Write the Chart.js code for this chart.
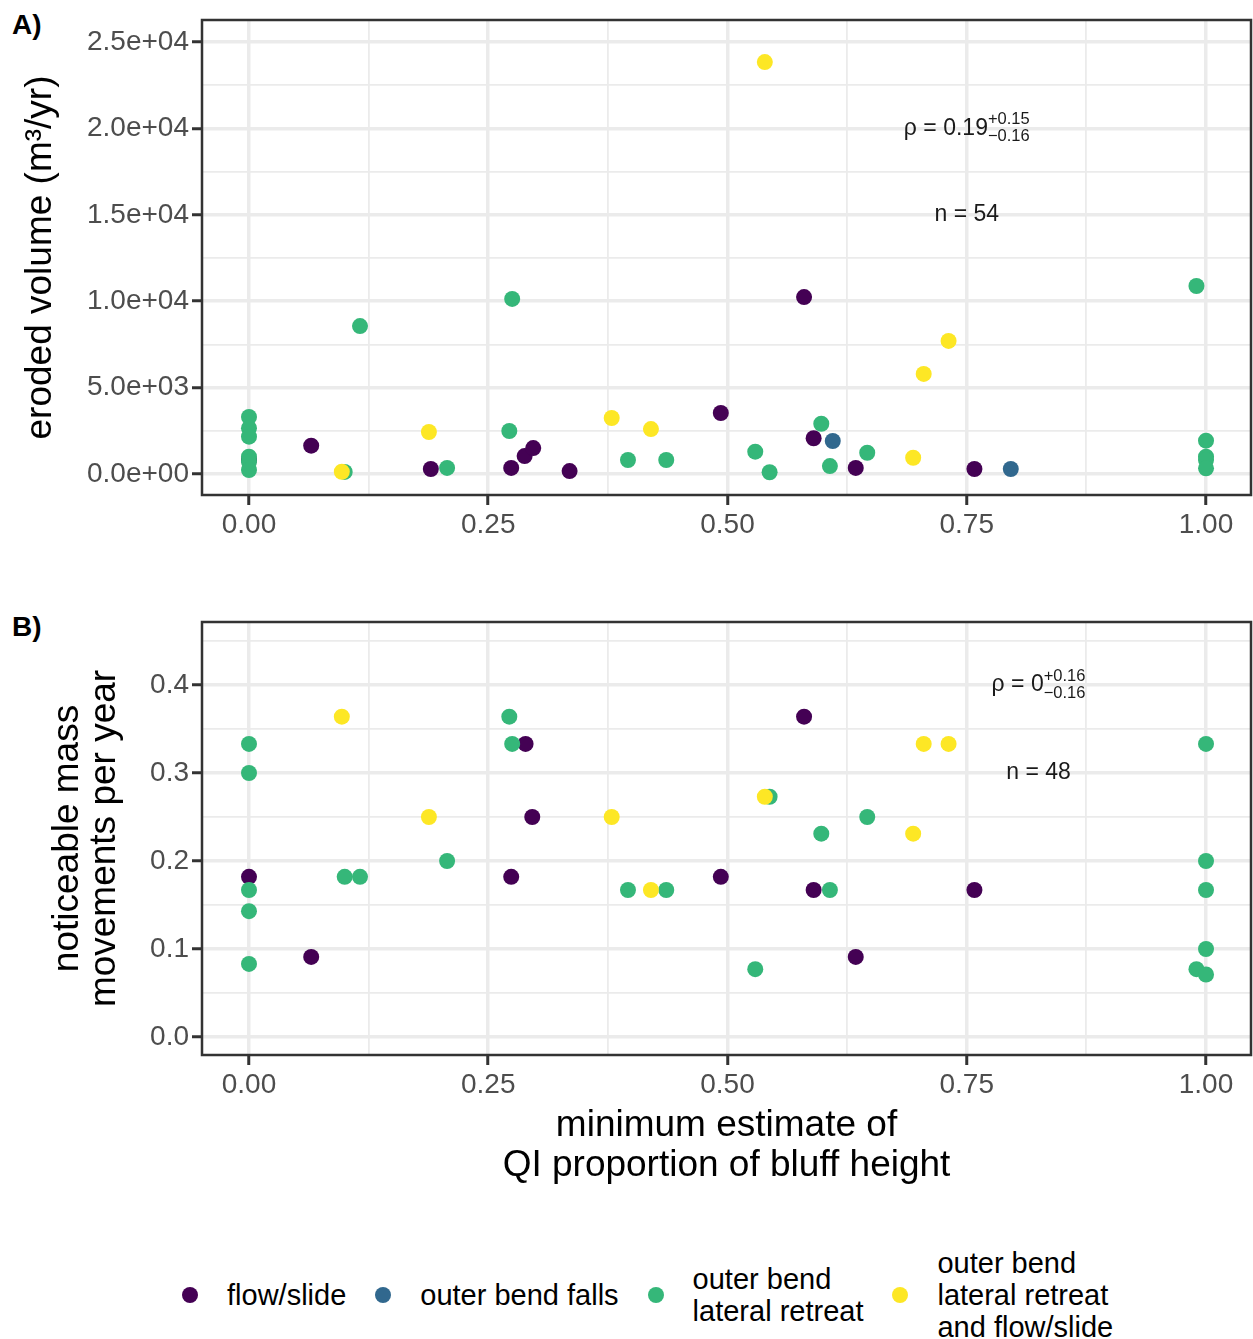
<!DOCTYPE html>
<html>
<head>
<meta charset="utf-8">
<script src="https://cdn.jsdelivr.net/npm/chart.js@4.4.1/dist/chart.umd.min.js"></script>
<style>
  body { margin:0; background:#fff; width:1253px; height:1339px; position:relative; overflow:hidden;
         font-family:"Liberation Sans", Arial, Helvetica, sans-serif; }
  canvas { position:absolute; left:0; }
  #chartA { top:0; }
  #chartB { top:600px; }
  .tag { position:absolute; left:12px; font-weight:bold; font-size:28px; line-height:28px; color:#000; }
  #legend { position:absolute; left:182px; top:1245px; height:100px; display:flex; align-items:center;
            gap:29px; font-size:29px; color:#000; }
  .key { width:16px; height:16px; border-radius:50%; flex:none; }
  .lab { line-height:32px; white-space:pre; }
</style>
</head>
<body>
<div class="tag" style="top:11px">A)</div>
<div class="tag" style="top:613px">B)</div>
<canvas id="chartA" width="1253" height="560"></canvas>
<canvas id="chartB" width="1253" height="600"></canvas>
<div id="legend"></div>

<script>
/* ---------- categories / colours ---------- */
const categories = ['flow/slide', 'outer bend falls', 'outer bend\nlateral retreat', 'outer bend\nlateral retreat\nand flow/slide'];
const colours    = ['#440154', '#31688E', '#35B779', '#FDE725'];

/* ---------- panel A: eroded volume ---------- */
// type: 0 flow/slide, 1 outer bend falls, 2 outer bend lateral retreat, 3 lateral retreat + flow/slide
const qiA   = [0, 0.065, 0.19, 0.274, 0.288, 0.297, 0.335, 0.493, 0.580, 0.590, 0.634, 0.758,
               0.610, 0.796,
               0, 0, 0, 0, 0, 0, 0.100, 0.116, 0.207, 0.272, 0.275, 0.396, 0.436, 0.529, 0.544, 0.598, 0.607, 0.646, 0.990, 1, 1, 1, 1,
               0.097, 0.188, 0.379, 0.420, 0.539, 0.694, 0.705, 0.731];
const volA  = [810, 1640, 290, 350, 1040, 1500, 170, 3530, 10240, 2070, 350, 290,
               1910, 290,
               3300, 2650, 2160, 1000, 710, 230, 120, 8560, 350, 2490, 10130, 810, 810, 1290, 100, 2910, 460, 1230, 10880, 1930, 1000, 810, 330,
               130, 2430, 3240, 2600, 23840, 940, 5790, 7700];
const typeA = [0, 0, 0, 0, 0, 0, 0, 0, 0, 0, 0, 0,
               1, 1,
               2, 2, 2, 2, 2, 2, 2, 2, 2, 2, 2, 2, 2, 2, 2, 2, 2, 2, 2, 2, 2, 2, 2,
               3, 3, 3, 3, 3, 3, 3, 3];

/* ---------- panel B: mass movements per year ---------- */
const qiB   = [0, 0.065, 0.274, 0.289, 0.296, 0.493, 0.580, 0.590, 0.634, 0.758,
               0, 0, 0, 0, 0, 0.100, 0.116, 0.207, 0.272, 0.275, 0.396, 0.436, 0.529, 0.544, 0.598, 0.607, 0.646, 0.990, 1, 1, 1, 1, 1,
               0.097, 0.188, 0.379, 0.420, 0.539, 0.694, 0.705, 0.731];
const rateB = [0.182, 0.091, 0.182, 0.333, 0.25, 0.182, 0.364, 0.167, 0.091, 0.167,
               0.333, 0.300, 0.167, 0.143, 0.083, 0.182, 0.182, 0.2, 0.364, 0.333, 0.167, 0.167, 0.077, 0.273, 0.231, 0.167, 0.25, 0.077, 0.333, 0.2, 0.167, 0.1, 0.071,
               0.364, 0.25, 0.25, 0.167, 0.273, 0.231, 0.333, 0.333];
const typeB = [0, 0, 0, 0, 0, 0, 0, 0, 0, 0,
               2, 2, 2, 2, 2, 2, 2, 2, 2, 2, 2, 2, 2, 2, 2, 2, 2, 2, 2, 2, 2, 2, 2,
               3, 3, 3, 3, 3, 3, 3, 3];

/* ---------- ticks ---------- */
const xTicks      = [0, 0.125, 0.25, 0.375, 0.5, 0.625, 0.75, 0.875, 1];
const xTickLabels = ['0.00', '0.25', '0.50', '0.75', '1.00'];
const yTicksA      = [0, 2500, 5000, 7500, 10000, 12500, 15000, 17500, 20000, 22500, 25000];
const yTickLabelsA = ['0.0e+00', '5.0e+03', '1.0e+04', '1.5e+04', '2.0e+04', '2.5e+04'];
const yTicksB      = [0, 0.05, 0.1, 0.15, 0.2, 0.25, 0.3, 0.35, 0.4, 0.45];
const yTickLabelsB = ['0.0', '0.1', '0.2', '0.3', '0.4'];

/* ---------- helpers ---------- */
const FONT = '"Liberation Sans", Arial, Helvetica, sans-serif';
Chart.defaults.font.family = FONT;

// chart.js draws dataset 0 on top, so give the later categories a lower order (ggplot draws them last)
function buildDatasets(xs, ys, types) {
  return categories.map((c, k) => ({
    label: c,
    order: categories.length - k,
    data: xs.map((x, i) => ({ x: x, y: ys[i], t: types[i] })).filter(p => p.t === k),
    backgroundColor: colours[k],
    borderWidth: 0,
    pointRadius: 8,
    pointHoverRadius: 8
  }));
}

// every other tick value is a major one (gets a label, a tick mark and a thick line)
function axis(values, labels, min, max, extra) {
  const isMajor = ctx => ctx.tick && values.indexOf(ctx.tick.value) % 2 === 0;
  return Object.assign({
    type: 'linear',
    min: min,
    max: max,
    afterBuildTicks: s => { s.ticks = values.map(v => ({ value: v })); },
    ticks: {
      autoSkip: false,
      maxRotation: 0,
      color: '#4d4d4d',
      font: { size: 28 },
      callback: v => { const i = values.indexOf(v); return i % 2 === 0 ? labels[i / 2] : ''; }
    },
    grid: {
      color: '#ebebeb',
      lineWidth: ctx => isMajor(ctx) ? 3.5 : 1.8,
      tickLength: 10,
      tickWidth: 3,
      tickColor: ctx => isMajor(ctx) ? '#333333' : 'rgba(0,0,0,0)'
    },
    border: { display: false }
  }, extra);
}

// fixed axis box sizes so the panels land where the original has them
function fixX(h) {
  return s => { s.height = h; s.paddingLeft = 0; s.paddingRight = 0; };
}
function fixY(w) {
  return s => { s.width = w; s.paddingTop = 0; s.paddingBottom = 0; };
}

/* ---------- panel border + rho / n labels ---------- */
const panelDeco = {
  id: 'panelDeco',
  afterDraw(chart, args, o) {
    const { ctx, chartArea: a, scales } = chart;
    ctx.save();
    ctx.strokeStyle = '#333333';
    ctx.lineWidth = 2.5;
    ctx.strokeRect(a.left, a.top, a.right - a.left, a.bottom - a.top);

    ctx.fillStyle = '#1a1a1a';
    ctx.textBaseline = 'middle';
    ctx.textAlign = 'left';
    const cx = scales.x.getPixelForValue(o.rhoAt[0]);
    const cy = scales.y.getPixelForValue(o.rhoAt[1]);
    const main = 'ρ = ' + o.rho;
    ctx.font = '23px ' + FONT;
    const wMain = ctx.measureText(main).width;
    ctx.font = '16.5px ' + FONT;
    const wSide = Math.max(ctx.measureText(o.rhoUp).width, ctx.measureText(o.rhoDown).width);
    const x0 = cx - (wMain + wSide) / 2;
    ctx.font = '23px ' + FONT;
    ctx.fillText(main, x0, cy);
    ctx.font = '16.5px ' + FONT;
    ctx.fillText(o.rhoUp, x0 + wMain, cy - 9);
    ctx.fillText(o.rhoDown, x0 + wMain, cy + 8);

    ctx.font = '23px ' + FONT;
    ctx.textAlign = 'center';
    ctx.fillText('n = ' + o.n, scales.x.getPixelForValue(o.nAt[0]), scales.y.getPixelForValue(o.nAt[1]));
    ctx.restore();
  }
};

/* ---------- chart A ---------- */
new Chart(document.getElementById('chartA'), {
  type: 'scatter',
  data: { datasets: buildDatasets(qiA, volA, typeA) },
  plugins: [panelDeco],
  options: {
    responsive: false,
    animation: false,
    events: [],
    layout: { autoPadding: false, padding: { top: 20, right: 2, bottom: 0, left: 0 } },
    plugins: {
      legend: { display: false },
      tooltip: { enabled: false },
      panelDeco: { rho: '0.19', rhoUp: '+0.15', rhoDown: '\u22120.16', rhoAt: [0.75, 20000], n: 54, nAt: [0.75, 15000] }
    },
    scales: {
      x: axis(xTicks, xTickLabels, -0.0491, 1.047, { afterFit: fixX(65) }),
      y: axis(yTicksA, yTickLabelsA, -1215, 26273, {
        afterFit: fixY(202),
        title: { display: true, text: 'eroded volume (m\u00b3/yr)', color: '#000',
                 font: { size: 37, lineHeight: '40px' }, padding: { top: 21, bottom: 0 } }
      })
    }
  }
});
</script>
<script>
/* ---------- chart B ---------- */
new Chart(document.getElementById('chartB'), {
  type: 'scatter',
  data: { datasets: buildDatasets(qiB, rateB, typeB) },
  plugins: [panelDeco],
  options: {
    responsive: false,
    animation: false,
    events: [],
    layout: { autoPadding: false, padding: { top: 22, right: 2, bottom: 0, left: 0 } },
    plugins: {
      legend: { display: false },
      tooltip: { enabled: false },
      panelDeco: { rho: '0', rhoUp: '+0.16', rhoDown: '\u22120.16', rhoAt: [0.825, 0.4], n: 48, nAt: [0.825, 0.3] }
    },
    scales: {
      x: axis(xTicks, xTickLabels, -0.0491, 1.047, {
        afterFit: fixX(145),
        title: { display: true, text: ['minimum estimate of', 'QI proportion of bluff height'], color: '#000',
                 font: { size: 37, lineHeight: '40px' }, padding: { top: 0, bottom: 14 } }
      }),
      y: axis(yTicksB, yTickLabelsB, -0.0205, 0.4716, {
        afterFit: fixY(202),
        title: { display: true, text: ['noticeable mass', 'movements per year'], color: '#000',
                 font: { size: 37, lineHeight: '37px' }, padding: { top: 49, bottom: 0 } }
      })
    }
  }
});

/* ---------- legend ---------- */
const legendEl = document.getElementById('legend');
legendEl.innerHTML = categories.map((c, k) =>
  `<div class="key" style="background:${colours[k]}"></div><div class="lab">${c}</div>`).join('');
</script>
</body>
</html>
